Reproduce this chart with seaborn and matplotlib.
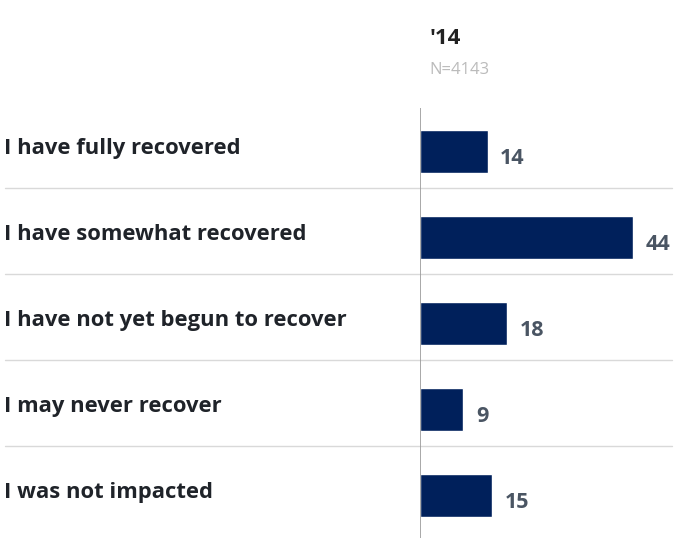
import pandas as pd
import seaborn as sns
import matplotlib.pyplot as plt
import matplotlib.transforms as mtransforms

categories = [
    "I have fully recovered",
    "I have somewhat recovered",
    "I have not yet begun to recover",
    "I may never recover",
    "I was not impacted",
]
values = [14, 44, 18, 9, 15]
year_label = "'14"
n_label = "N=4143"

df = pd.DataFrame({"answer": categories, "pct": values})

sns.set_style("white")
plt.rcParams['font.family'] = ['Open Sans', 'DejaVu Sans']

fig = plt.figure(figsize=(6.8, 5.38), dpi=100)
ax = fig.add_axes([420 / 680, 0, 260 / 680, 1 - 108 / 538])

sns.barplot(data=df, x="pct", y="answer", orient="h", color="#00205b",
            saturation=1, width=0.5, ax=ax)

ax.set_xlim(0, 53.8)
ax.set_ylim(4.5, -0.5)
ax.set_xlabel("")
ax.set_ylabel("")
ax.set_xticks([])
ax.set_yticks([])
sns.despine(ax=ax, left=True, bottom=True, top=True, right=True)
ax.axvline(0, color="#999999", lw=1.2)

# separators between rows, running across the whole figure
for k in range(len(categories) - 1):
    ax.axhline(k + 0.43, xmin=(5 - 420) / 260, xmax=(672 - 420) / 260,
               color="#d9d9d9", lw=1, clip_on=False, zorder=0)

# category labels on the left
trans = mtransforms.blended_transform_factory(fig.transFigure, ax.transData)
for i, cat in enumerate(categories):
    ax.text(4 / 680, i - 0.03, cat, transform=trans, ha="left", va="center",
            fontsize=15.8, fontweight="bold", color="#1f2329")

# value labels
for i, v in enumerate(values):
    ax.text(v + 2.6, i + 0.09, str(v), ha="left", va="center",
            fontsize=15.5, fontweight="bold", color="#4a5563")

fig.text(445 / 680, 1 - 38 / 538, year_label, ha="center", va="center",
         fontsize=16, fontweight="bold", color="#222222")
fig.text(459 / 680, 1 - 70 / 538, n_label, ha="center", va="center",
         fontsize=12, color="#bbbbbb")

fig.savefig("out.png", dpi=100)
